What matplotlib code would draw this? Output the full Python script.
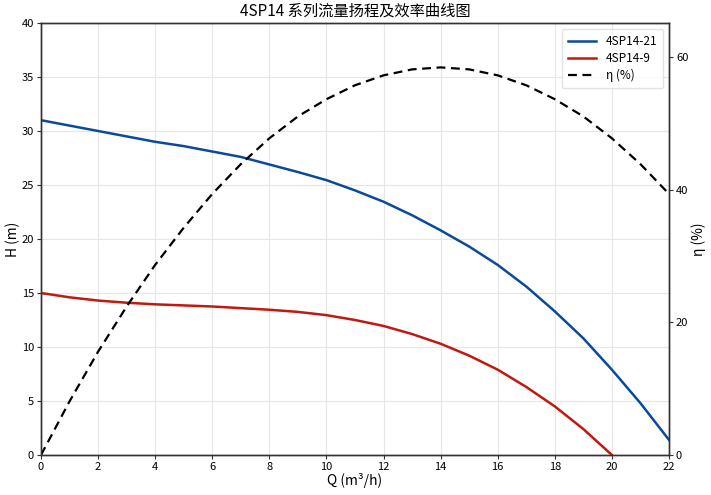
import matplotlib
matplotlib.use("Agg")
import matplotlib.pyplot as plt

plt.rcParams['font.family'] = ['Noto Sans CJK SC', 'DejaVu Sans']

q = list(range(0, 23))
h_21 = [31.0, 30.5, 30.0, 29.5, 29.0, 28.6, 28.1, 27.6, 26.9, 26.2, 25.45, 24.5,
        23.45, 22.2, 20.8, 19.3, 17.6, 15.6, 13.3, 10.8, 7.9, 4.8, 1.4]
q_9 = list(range(0, 21))
h_9 = [15.0, 14.6, 14.3, 14.1, 13.95, 13.85, 13.75, 13.6, 13.45, 13.25, 12.95, 12.5,
       11.95, 11.2, 10.3, 9.2, 7.9, 6.3, 4.5, 2.4, 0.0]
eta = [0.0, 8.1, 15.6, 22.4, 28.7, 34.3, 39.4, 43.9, 47.8, 51.1, 53.7, 55.8,
       57.3, 58.2, 58.5, 58.2, 57.3, 55.8, 53.7, 51.1, 47.8, 43.9, 39.4]

x_ticks = list(range(0, 23, 2))
y_ticks = list(range(0, 41, 5))
eta_ticks = [0, 20, 40, 60]

fig = plt.figure(figsize=(7.11, 4.95), dpi=100)
ax = fig.add_axes([41/711, 1-455/495, (669-41)/711, (455-23)/495])
ax2 = ax.twinx()

l1, = ax.plot(q, h_21, color='#0b4a9b', lw=1.8, label='4SP14-21')
l2, = ax.plot(q_9, h_9, color='#c01a10', lw=1.8, label='4SP14-9')
l3, = ax2.plot(q, eta, color='black', lw=1.6, ls=(0, (4, 2.5)), label='η (%)')

ax.set_xlim(0, 22)
ax.set_ylim(0, 40)
ax2.set_ylim(0, 65.2)
ax.set_xticks(x_ticks)
ax.set_yticks(y_ticks)
ax2.set_yticks(eta_ticks)
ax.grid(True, color='#e6e6e6', lw=0.8)
ax.set_axisbelow(True)

for a in (ax, ax2):
    a.tick_params(labelsize=8, length=3, color='#333333', pad=2)
    for s in a.spines.values():
        s.set_color('#333333')
        s.set_linewidth(1.0)

ax.set_xlabel('Q (m³/h)', fontsize=10, labelpad=1)
ax.set_ylabel('H (m)', fontsize=10, labelpad=1)
ax2.set_ylabel('η (%)', fontsize=10, labelpad=2)
ax.set_title('4SP14 系列流量扬程及效率曲线图', fontsize=11, pad=5)

leg = ax.legend(handles=[l1, l2, l3], loc='upper right', fontsize=8.5,
                frameon=True, borderpad=0.5, handlelength=2.4, labelspacing=0.35)
leg.get_frame().set_edgecolor('#dddddd')

fig.savefig('out.png', dpi=100)
